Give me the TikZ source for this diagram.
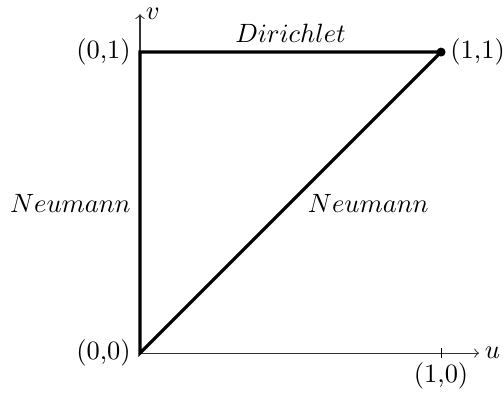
\documentclass[tikz,border=0pt]{standalone}
\usepackage{tikz}
\usetikzlibrary{positioning}
\tikzset{
  axis/.style  = {->, line width=0.4pt, draw=black!80},
  edge/.style  = {line width=1.2pt, draw=black},
  pt/.style    = {inner sep=3.33pt},
  bnd/.style   = {inner sep=3.33pt},
}
\begin{document}
\begin{tikzpicture}[x=4cm, y=4cm]
\useasboundingbox (-0.465,-0.13) rectangle (1.209,1.173);
% corners
\coordinate (o) at (0,0);
\coordinate (a) at (0,1);
\coordinate (b) at (1,1);
\coordinate (c) at (1,0);
\coordinate (uend) at (1.126,0);
\coordinate (vend) at (0,1.126);
% axes
\draw[axis] (o) -- (uend) node[right, inner sep=2pt] (ulab) {$u$};
\draw[axis] (o) -- (vend) node[right, xshift=1pt, inner sep=1pt] (vlab) {$v$};
\draw[line width=0.4pt] ([yshift=-2pt]c) -- ([yshift=2pt]c);
% domain
\draw[edge] (o) -- (a) -- (b) -- cycle;
\fill (b) circle (1.7pt);
% labels
\node[pt, left] (lo) at (o) {(0,0)};
\node[pt, left] (la) at (a) {(0,1)};
\node[pt, right] (lb) at (b) {(1,1)};
\node[pt, below] (lc) at (c) {(1,0)};
\node[bnd, above] (dir) at (0.5,1) {$Dirichlet$};
\node[bnd, anchor=base east] (neuL) at (0,0.468) {$Neumann$};
\node[bnd, anchor=base west] (neuD) at (0.527,0.468) {$Neumann$};
\end{tikzpicture}
\end{document}
